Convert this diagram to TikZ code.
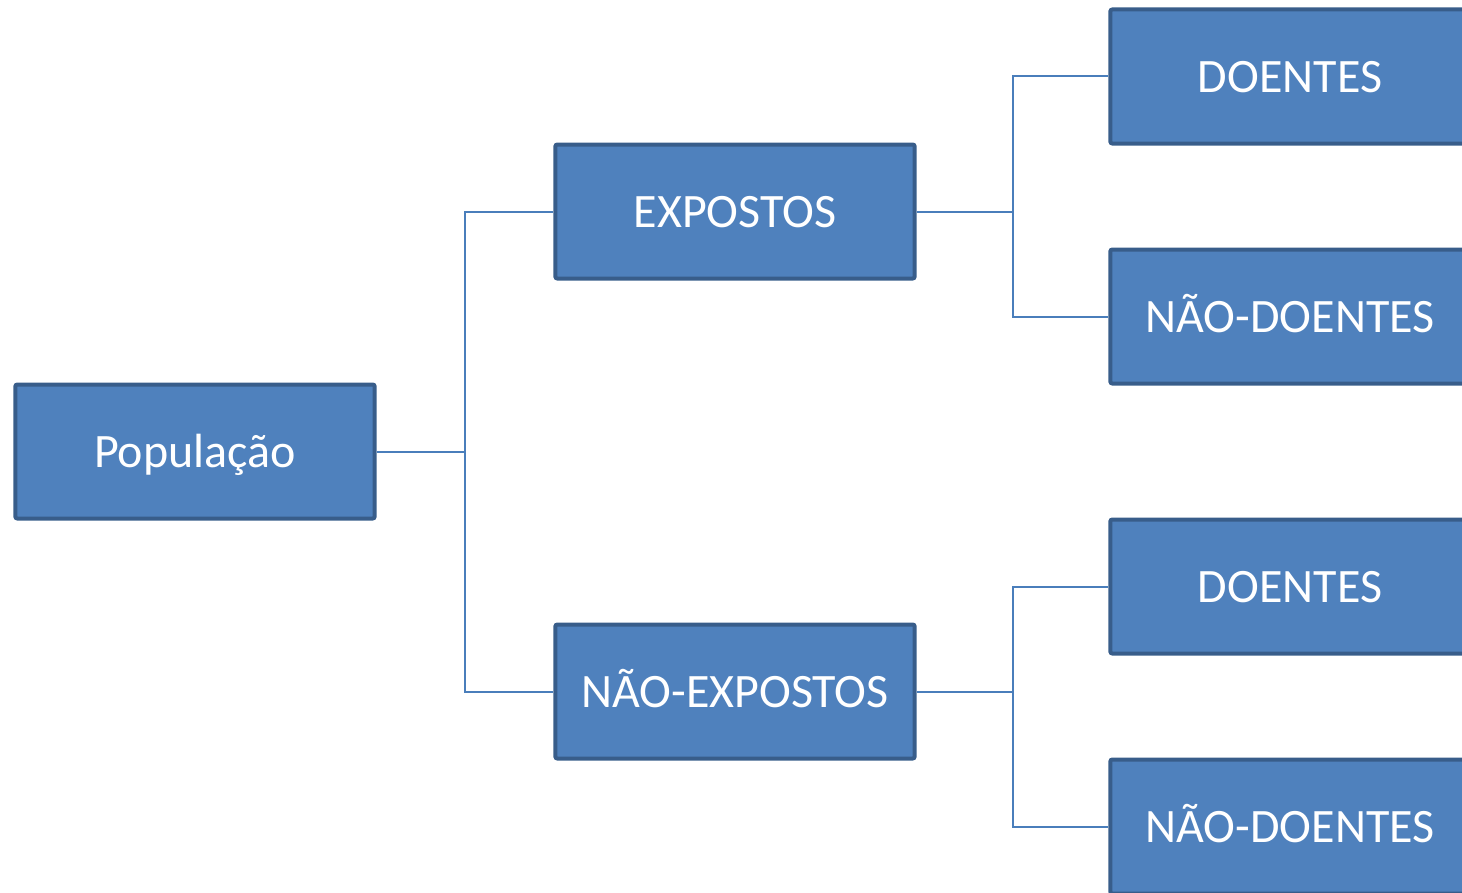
\documentclass[tikz,border=0pt]{standalone}
\usepackage{fontspec}
\setmainfont{Carlito}
\definecolor{boxfill}{HTML}{4F81BD}
\definecolor{boxedge}{HTML}{385D8A}
\definecolor{conncol}{HTML}{4A7EBB}
\begin{document}
\begin{tikzpicture}[x=0.75pt,y=-0.75pt,
  box/.style={draw=boxedge,fill=boxfill,line width=3pt,rounded corners=1.5pt,
    minimum width=269.5pt,minimum height=100.5pt,inner sep=0pt,
    text height=24.5pt,text depth=0pt,
    text=white,font=\fontsize{36}{42}\selectfont},
  conn/.style={draw=conncol,line width=1.5pt}]
\clip (0,0) rectangle (1462,892);
\useasboundingbox (0,0) rectangle (1462,892);
\node[box] (pop) at (195,451.5) {População};
\node[box] (exp) at (735,211.5) {EXPOSTOS};
\node[box] (nexp) at (735,691.5) {NÃO-EXPOSTOS};
\node[box] (d1) at (1290,76.5) {DOENTES};
\node[box] (nd1) at (1290,316.5) {NÃO-DOENTES};
\node[box] (d2) at (1290,586.5) {DOENTES};
\node[box] (nd2) at (1290,826.5) {NÃO-DOENTES};
\coordinate (j1) at (465,451.5);
\coordinate (j2) at (1013,211.5);
\coordinate (j3) at (1013,691.5);
\draw[conn] (pop.east) -- (j1);
\draw[conn] (j1) |- (exp.west);
\draw[conn] (j1) |- (nexp.west);
\draw[conn] (exp.east) -- (j2);
\draw[conn] (j2) |- (d1.west);
\draw[conn] (j2) |- (nd1.west);
\draw[conn] (nexp.east) -- (j3);
\draw[conn] (j3) |- (d2.west);
\draw[conn] (j3) |- (nd2.west);
\end{tikzpicture}
\end{document}
